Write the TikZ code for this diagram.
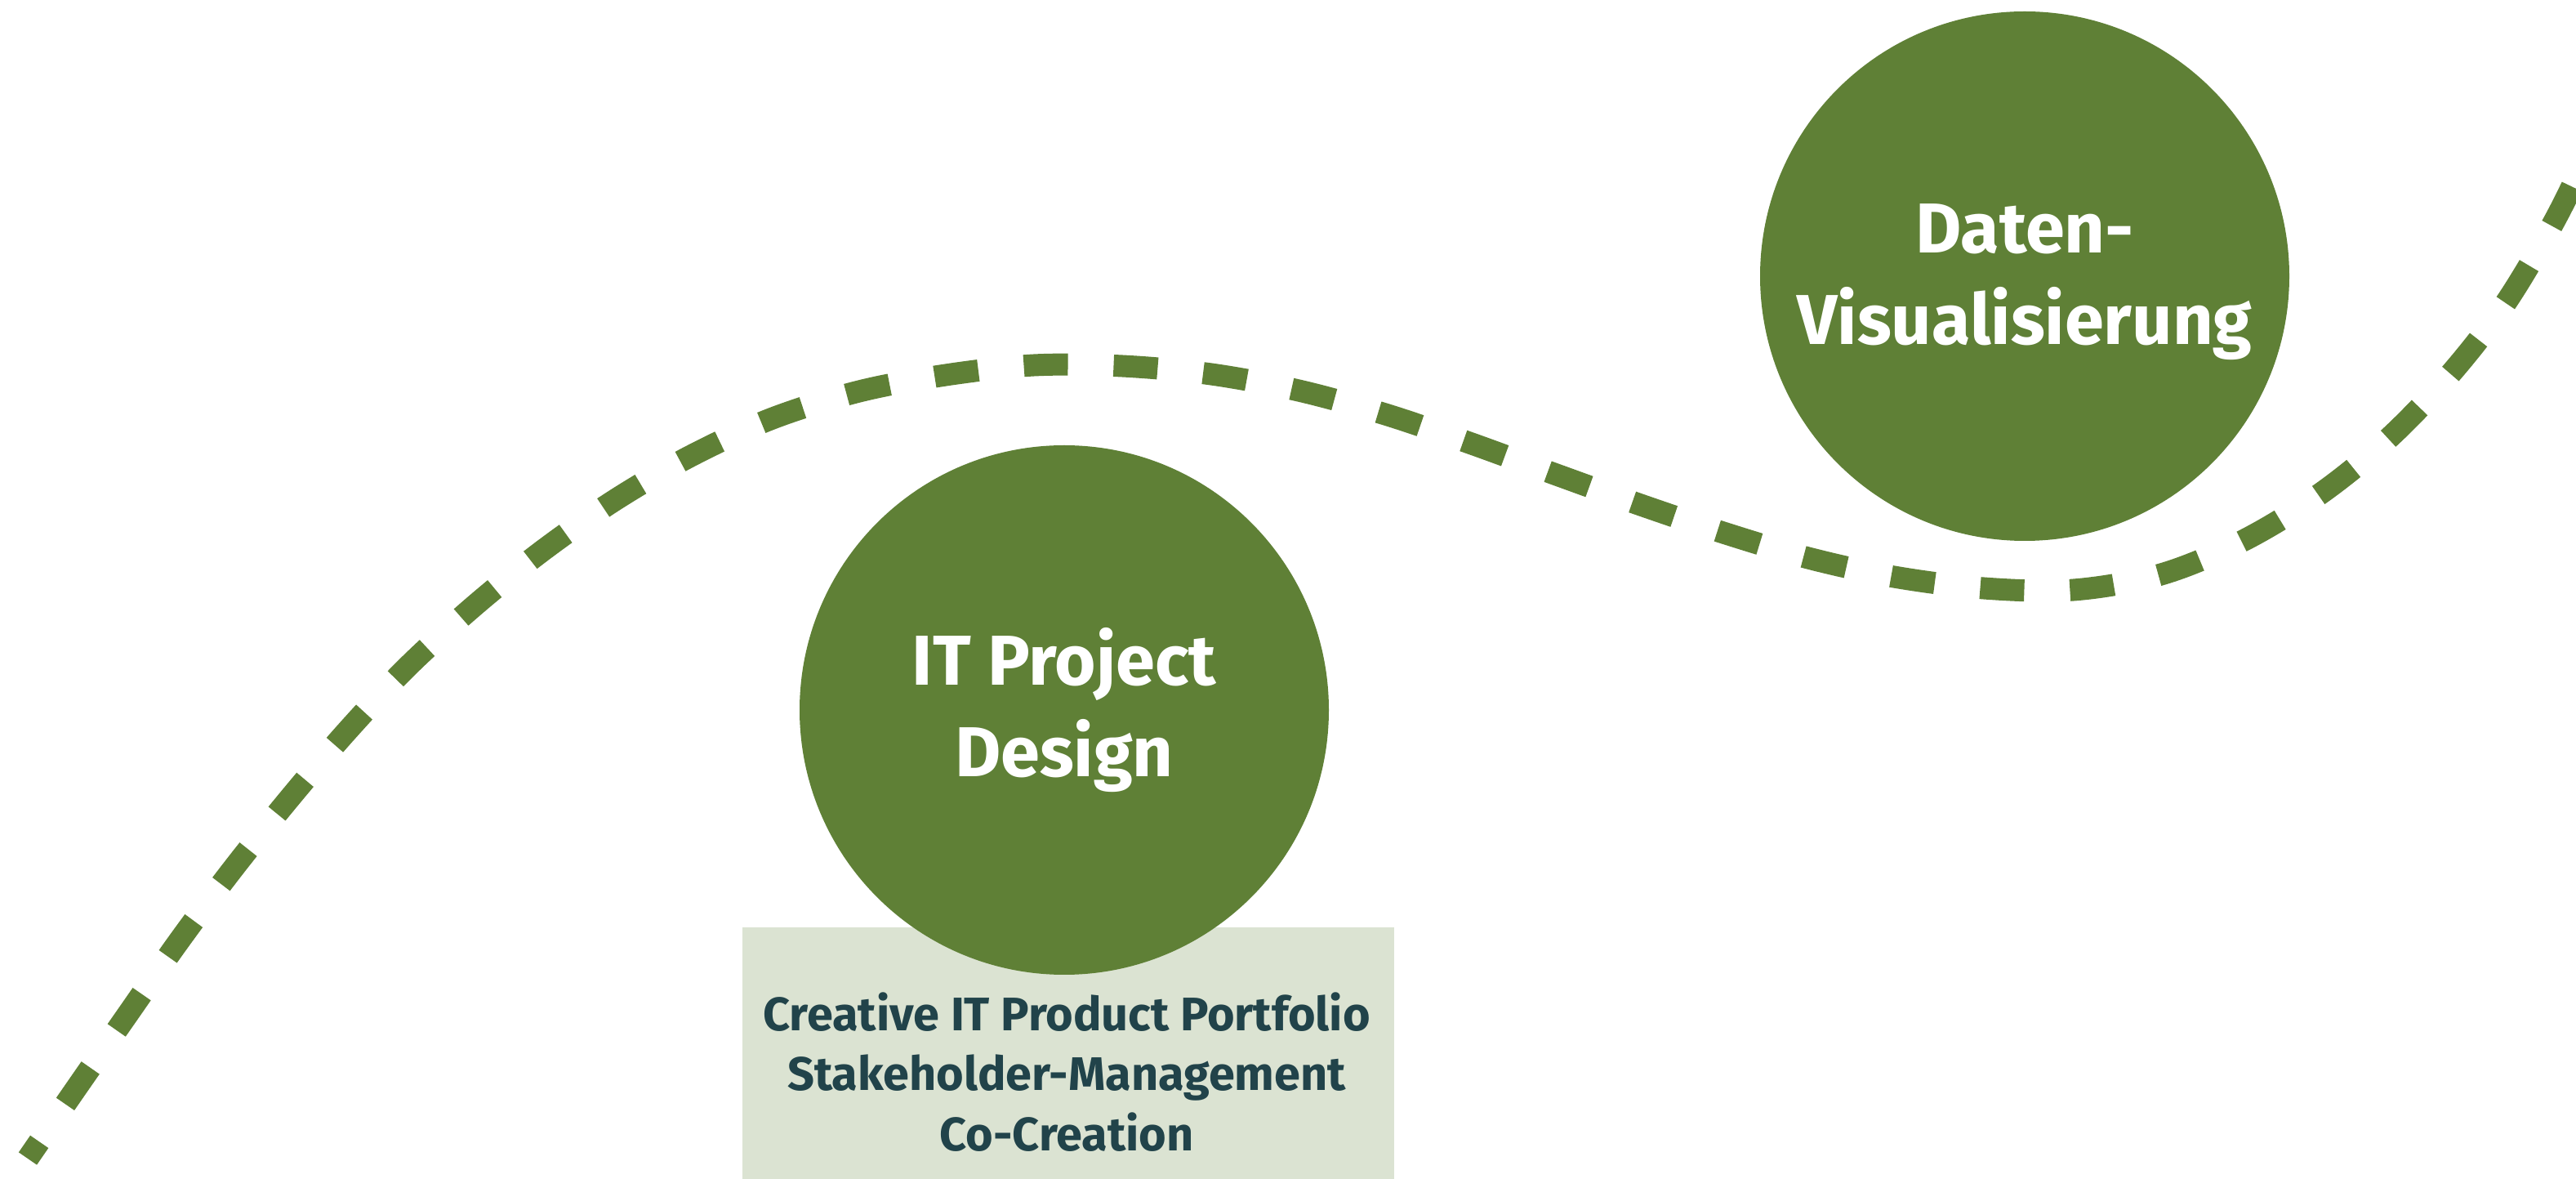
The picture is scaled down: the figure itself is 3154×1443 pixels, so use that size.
\documentclass[tikz,border=0pt]{standalone}
\usepackage{fontspec}
\setmainfont{Fira Sans}
\definecolor{leaf}{HTML}{5F8036}
\definecolor{sage}{HTML}{DBE3D2}
\definecolor{slate}{HTML}{21434A}
\begin{document}
\begin{tikzpicture}[x=0.1mm,y=-0.1mm,
  bubble/.style={circle,fill=leaf,draw=none,minimum size=64.8mm,inner sep=0pt},
  bubbletext/.style={text=white,font=\fontsize{24.6}{29}\selectfont\bfseries,anchor=base,inner sep=0pt},
  boxtext/.style={text=slate,font=\fontsize{16.4}{19}\selectfont\bfseries,anchor=base,inner sep=0pt},
  trail/.style={draw=leaf,line width=2.7mm,dash pattern=on 5.4mm off 5.6mm,dash phase=2.9mm}]
\useasboundingbox (0,0) rectangle (3154,1443);
\clip (0,0) rectangle (3154,1443);
\fill[white] (0,0) rectangle (3154,1443);
% dashed path
\draw[trail] plot[smooth,tension=0.55] coordinates {
 (34,1418) (94,1331) (156,1242) (219,1152) (284,1065) (353,979) (423,897)
 (498,817) (579,743) (663,675) (753,612) (846,558) (946,512) (1052,479)
 (1158,459) (1266,447) (1374,448) (1483,458) (1590,478) (1696,507)
 (1799,542) (1903,580) (2006,617) (2110,652) (2214,683) (2319,706)
 (2429,720) (2539,722) (2646,703) (2746,662) (2840,605) (2924,537)
 (3000,458) (3067,372) (3124,277) (3162,200) (3195,118)};
% box
\node[fill=sage,draw=none,minimum width=79.8mm,minimum height=32mm,inner sep=0pt,anchor=north west] (box) at (908,1134) {};
% circles
\node[bubble] (it) at (1303,869) {};
\node[bubble] (dv) at (2479,338) {};
\node[bubbletext] (it1) at (1303,839) {IT Project};
\node[bubbletext] (it2) at (1303,951) {Design};
\node[bubbletext] (dv1) at (2479,310) {Daten-};
\node[bubbletext] (dv2) at (2479,422) {Visualisierung};
\node[boxtext] (b1) at (1306,1262) {Creative IT Product Portfolio};
\node[boxtext] (b2) at (1306,1335) {Stakeholder-Management};
\node[boxtext] (b3) at (1306,1409) {Co-Creation};
\end{tikzpicture}
\end{document}
